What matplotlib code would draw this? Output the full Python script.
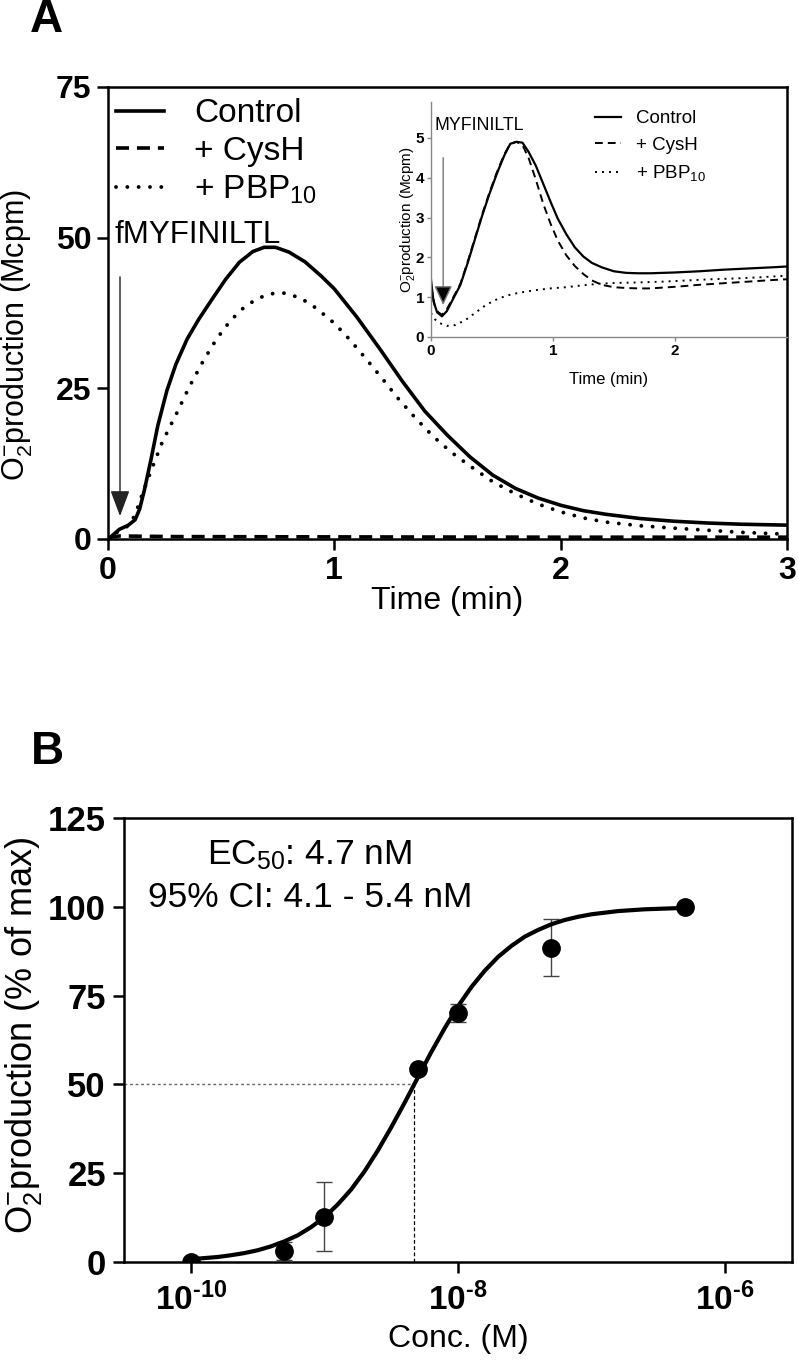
"""Two-panel figure: O2- production time course (A) and concentration response (B)."""

import matplotlib
matplotlib.use("Agg")
import matplotlib.pyplot as plt
import numpy as np
from matplotlib.ticker import FixedLocator

plt.rcParams["font.family"] = ["Liberation Sans", "DejaVu Sans"]
plt.rcParams["mathtext.fontset"] = "custom"
plt.rcParams["mathtext.rm"] = "Liberation Sans"
plt.rcParams["mathtext.it"] = "Liberation Sans:italic"
plt.rcParams["mathtext.bf"] = "Liberation Sans:bold"

# ---- Panel A: main time course (Mcpm) ----
ctrl_t = [0.0, 0.02, 0.05, 0.09, 0.12, 0.14, 0.16, 0.19, 0.22, 0.26, 0.30,
          0.35, 0.40, 0.46, 0.52, 0.58, 0.64, 0.69, 0.74, 0.80, 0.87, 0.94,
          1.0, 1.1, 1.2, 1.3, 1.4, 1.5, 1.6, 1.7, 1.8, 1.9, 2.0, 2.1, 2.2,
          2.35, 2.5, 2.65, 2.8, 3.0]
ctrl_v = [0.0, 0.6, 1.6, 2.3, 3.2, 5.0, 8.0, 13.2, 18.8, 24.6, 29.0,
          33.2, 36.4, 39.8, 43.1, 45.9, 47.7, 48.4, 48.4, 47.6, 46.0, 43.7,
          41.5, 36.8, 31.6, 26.2, 21.2, 17.2, 13.6, 10.6, 8.4, 6.8, 5.6, 4.7,
          4.1, 3.4, 2.95, 2.65, 2.45, 2.3]

pbp_t = [0.0, 0.05, 0.09, 0.12, 0.15, 0.19, 0.24, 0.30, 0.36, 0.42, 0.48,
         0.54, 0.60, 0.66, 0.72, 0.78, 0.85, 0.92, 1.0, 1.07, 1.14, 1.21,
         1.28, 1.36, 1.44, 1.52, 1.6, 1.7, 1.8, 1.9, 2.0, 2.1, 2.2, 2.35,
         2.5, 2.65, 2.8, 3.0]
pbp_v = [0.0, 1.4, 2.2, 4.0, 7.3, 11.3, 16.1, 20.6, 25.3, 29.5, 33.2,
         36.2, 38.4, 39.9, 40.7, 40.8, 40.0, 38.3, 35.8, 33.0, 29.9, 26.7,
         23.4, 20.0, 16.9, 14.3, 12.1, 9.5, 7.5, 5.8, 4.5, 3.5, 2.8, 2.2,
         1.8, 1.45, 1.1, 0.8]

cysh_t = [0.0, 0.05, 0.3, 1.0, 2.0, 3.0]
cysh_v = [0.2, 0.5, 0.4, 0.35, 0.3, 0.3]

# ---- Panel A inset: MYFINILTL time course ----
in_ctrl_t = [0.0, 0.02, 0.05, 0.09, 0.13, 0.18, 0.24, 0.30, 0.36, 0.42, 0.48,
             0.54, 0.60, 0.65, 0.70, 0.75, 0.80, 0.86, 0.92, 0.98, 1.04, 1.11,
             1.18, 1.25, 1.32, 1.4, 1.5, 1.6, 1.7, 1.8, 2.0, 2.2, 2.4, 2.6,
             2.8, 2.92]
in_ctrl_v = [1.44, 0.9, 0.62, 0.52, 0.65, 0.95, 1.3, 1.85, 2.45, 3.05, 3.6,
             4.1, 4.55, 4.85, 4.9, 4.88, 4.65, 4.3, 3.85, 3.4, 2.97, 2.58,
             2.25, 2.02, 1.86, 1.75, 1.65, 1.61, 1.6, 1.6, 1.62, 1.65, 1.69,
             1.72, 1.75, 1.77]

in_cysh_t = [0.0, 0.03, 0.06, 0.09, 0.13, 0.18, 0.24, 0.30, 0.36, 0.42, 0.48,
             0.54, 0.60, 0.65, 0.70, 0.75, 0.80, 0.86, 0.92, 0.98, 1.04, 1.11,
             1.18, 1.25, 1.32, 1.4, 1.5, 1.6, 1.7, 1.8, 2.0, 2.2, 2.4, 2.6,
             2.8, 2.92]
in_cysh_v = [1.27, 0.8, 0.62, 0.56, 0.7, 0.98, 1.33, 1.88, 2.48, 3.08, 3.63,
             4.13, 4.58, 4.85, 4.9, 4.82, 4.5, 3.95, 3.35, 2.85, 2.42, 2.05,
             1.78, 1.58, 1.42, 1.31, 1.25, 1.23, 1.22, 1.22, 1.26, 1.31, 1.35,
             1.39, 1.43, 1.45]

in_pbp_t = [0.0, 0.03, 0.07, 0.13, 0.2, 0.28, 0.36, 0.44, 0.52, 0.62, 0.72,
            0.84, 0.98, 1.11, 1.25, 1.39, 1.55, 1.7, 1.9, 2.1, 2.3, 2.5, 2.7,
            2.92]
in_pbp_v = [0.6, 0.45, 0.35, 0.28, 0.3, 0.42, 0.6, 0.78, 0.92, 1.04, 1.11,
            1.17, 1.22, 1.25, 1.3, 1.34, 1.36, 1.37, 1.39, 1.42, 1.45, 1.47,
            1.5, 1.54]

# ---- Panel B: concentration response ----
conc = [1e-10, 5e-10, 1e-9, 5e-9, 1e-8, 5e-8, 5e-7]
resp = [0.0, 3.0, 12.8, 54.3, 70.0, 88.5, 100.0]
resp_err = [0.0, 2.5, 9.8, 1.0, 2.5, 8.1, 0.0]

# fitted curve read at log10(conc) positions
fit_logc = [-10.0, -9.9, -9.8, -9.7, -9.6, -9.5, -9.4, -9.3, -9.2, -9.1,
            -9.0, -8.9, -8.8, -8.7, -8.6, -8.5, -8.4, -8.3, -8.2, -8.1,
            -8.0, -7.9, -7.8, -7.7, -7.6, -7.5, -7.4, -7.3, -7.2, -7.1,
            -7.0, -6.8, -6.6, -6.3]
fit_resp = [0.8, 1.1, 1.4, 1.9, 2.5, 3.3, 4.4, 5.8, 7.5, 9.8,
            12.6, 16.2, 20.4, 25.5, 31.4, 37.9, 44.8, 52.0, 59.1, 65.8,
            72.0, 77.4, 82.0, 85.9, 89.0, 91.6, 93.5, 95.1, 96.3, 97.2,
            97.9, 98.8, 99.3, 99.7]

EC50 = 4.7e-9

W, H = 798, 1368
HYPH = "\u2010"


def rect(left, top, right, bottom):
    """Figure-fraction rectangle from pixel edges."""
    return [left / W, 1 - bottom / H, (right - left) / W, (bottom - top) / H]


fig = plt.figure(figsize=(W / 100, H / 100), dpi=100)

# ================= Panel A =================
axA = fig.add_axes(rect(108, 87, 787, 539))
axA.plot(ctrl_t, ctrl_v, color="black", lw=2.6, label="Control")
axA.plot(cysh_t, cysh_v, color="black", lw=2.6, linestyle=(0, (3.6, 2.2)),
         dash_capstyle="butt", label="+ CysH")
axA.plot(pbp_t, pbp_v, color="black", lw=2.8, linestyle=(0, (0.01, 2.9)),
         dash_capstyle="round", label="+ PBP$_{10}$")
axA.set_xlim(0, 3)
axA.set_ylim(0, 75)
axA.xaxis.set_major_locator(FixedLocator([0, 1, 2, 3]))
axA.yaxis.set_major_locator(FixedLocator([0, 25, 50, 75]))
for s in axA.spines.values():
    s.set_linewidth(1.8)
axA.tick_params(direction="out", length=8, width=1.8, labelsize=23, pad=4)
for lab in axA.get_xticklabels() + axA.get_yticklabels():
    lab.set_fontweight("bold")
axA.set_xlabel("Time (min)", fontsize=23)
axA.xaxis.set_label_coords(0.5, -0.105)
axA.set_ylabel("O$_2^{-}$production (Mcpm)", fontsize=22)
axA.yaxis.set_label_coords(-0.108, 0.451)
axA.legend(loc="upper left", bbox_to_anchor=(0.012, 0.975), frameon=False,
           fontsize=24, handlelength=1.45, handletextpad=0.9,
           labelspacing=0.2, borderaxespad=0, borderpad=0)
axA.annotate("", xy=(0.053, 3.8), xytext=(0.053, 43.5),
             arrowprops=dict(arrowstyle="-|>,head_length=0.8,head_width=0.3",
                             mutation_scale=20, lw=1.0, color="#222222",
                             shrinkA=0, shrinkB=0))
axA.text(0.03, 50.4, "fMYFINILTL", fontsize=22.5, ha="left", va="center")

# ---- inset ----
axI = fig.add_axes(rect(431, 102, 787, 337))
axI.set_facecolor("none")
axI.plot(in_ctrl_t, in_ctrl_v, color="black", lw=1.6, label="Control")
axI.plot(in_cysh_t, in_cysh_v, color="black", lw=1.4, linestyle=(0, (4, 2.6)),
         label="+ CysH")
axI.plot(in_pbp_t, in_pbp_v, color="black", lw=1.4, linestyle=(0, (1, 2.6)),
         label="+ PBP$_{10}$")
axI.set_xlim(0, 2.92)
axI.set_ylim(0, 5.9)
axI.xaxis.set_major_locator(FixedLocator([0, 1, 2]))
axI.yaxis.set_major_locator(FixedLocator([0, 1, 2, 3, 4, 5]))
axI.spines["top"].set_visible(False)
axI.spines["right"].set_visible(False)
for side in ("left", "bottom"):
    axI.spines[side].set_color("#888888")
    axI.spines[side].set_linewidth(1.0)
axI.tick_params(direction="out", length=3, width=1, color="#888888",
                labelsize=11, pad=2)
for lab in axI.get_xticklabels() + axI.get_yticklabels():
    lab.set_fontweight("bold")
axI.set_xlabel("Time (min)", fontsize=12)
axI.xaxis.set_label_coords(0.5, -0.15)
axI.set_ylabel("O$_2^{-}$production (Mcpm)", fontsize=11)
axI.yaxis.set_label_coords(-0.04, 0.5)
axI.legend(loc="upper left", bbox_to_anchor=(0.462, 0.965), frameon=False,
           fontsize=13.5, handlelength=1.35, handletextpad=0.8,
           labelspacing=0.5, borderaxespad=0, borderpad=0)
axI.annotate("", xy=(0.1, 0.8), xytext=(0.1, 4.5),
             arrowprops=dict(arrowstyle="-|>,head_length=0.6,head_width=0.28",
                             mutation_scale=20, lw=1.0, color="#777777",
                             fc="black", ec="#777777", shrinkA=0, shrinkB=0))
axI.text(0.03, 5.31, "MYFINILTL", fontsize=12.8, ha="left", va="center")

# ================= Panel B =================
axB = fig.add_axes(rect(124, 818, 792, 1262))
axB.set_xscale("log")
axB.set_xlim(10 ** -10.5, 10 ** -5.5)
axB.set_ylim(0, 125)
axB.plot([10 ** -10.5, EC50], [50, 50], color="#666666", lw=1.0,
         linestyle=(0, (2, 2)), zorder=1)
axB.plot([EC50, EC50], [0, 50], color="black", lw=0.9,
         linestyle=(0, (3, 2)), zorder=1)
axB.plot(10 ** np.array(fit_logc), fit_resp, color="black", lw=3.0, zorder=3)
axB.errorbar(conc, resp, yerr=resp_err, fmt="none", ecolor="#444444",
             elinewidth=1.0, capsize=6, capthick=1.0, zorder=2)
axB.plot(conc, resp, "o", color="black", markersize=12.5, zorder=4)

axB.xaxis.set_major_locator(FixedLocator([1e-10, 1e-8, 1e-6]))
axB.xaxis.set_minor_locator(FixedLocator([]))
axB.set_xticklabels([r"$\mathbf{10^{" + HYPH + "10}}$",
                     r"$\mathbf{10^{" + HYPH + "8}}$",
                     r"$\mathbf{10^{" + HYPH + "6}}$"])
axB.yaxis.set_major_locator(FixedLocator([0, 25, 50, 75, 100, 125]))
for s in axB.spines.values():
    s.set_linewidth(1.8)
axB.tick_params(axis="both", direction="out", length=8, width=1.8, pad=5)
axB.tick_params(axis="x", labelsize=24, pad=7)
axB.tick_params(axis="y", labelsize=25)
for lab in axB.get_yticklabels():
    lab.set_fontweight("bold")
axB.set_xlabel("Conc. (M)", fontsize=23)
axB.xaxis.set_label_coords(0.5, -0.14)
axB.set_ylabel("O$_2^{-}$production (% of max)", fontsize=26)
axB.yaxis.set_label_coords(-0.12, 0.511)
axB.text(0.278, 0.917, "EC$_{50}$: 4.7 nM", fontsize=25.5, ha="center",
         va="center", transform=axB.transAxes)
axB.text(0.278, 0.822, "95% CI: 4.1 - 5.4 nM", fontsize=25.5, ha="center",
         va="center", transform=axB.transAxes)

fig.text(46 / W, 1 - 20 / H, "A", fontsize=33, fontweight="bold",
         ha="center", va="center")
fig.text(47 / W, 1 - 752 / H, "B", fontsize=33, fontweight="bold",
         ha="center", va="center")

fig.savefig("out.png", dpi=100)
